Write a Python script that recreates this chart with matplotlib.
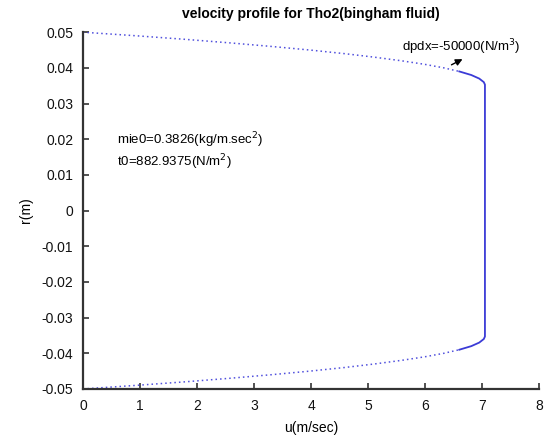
import matplotlib.pyplot as plt

plt.rcParams['font.family'] = ['Liberation Sans', 'DejaVu Sans']

# upper half of the profile (lower half is the mirror image)
r_outer = [0.050, 0.049, 0.048, 0.047, 0.046, 0.045, 0.044, 0.043, 0.042, 0.041, 0.040, 0.039]
u_outer = [0.00, 0.93, 1.79, 2.58, 3.31, 3.98, 4.58, 5.11, 5.58, 5.99, 6.33, 6.60]
r_inner = [0.039, 0.038, 0.037, 0.036, 0.0353]
u_inner = [6.60, 6.81, 6.95, 7.03, 7.05]

title = 'velocity profile for Tho2(bingham fluid)'
line_color = '#3b3bd6'

fig = plt.figure(figsize=(5.49, 4.41), dpi=100)
ax = fig.add_axes([0.151, 0.118, 0.831, 0.809])

# dotted outer parts (points spread out), solid near the plug
ax.plot(u_outer, r_outer, linestyle=(0, (1, 2)), color='#5050dd', lw=1.1)
ax.plot(u_outer, [-r for r in r_outer], linestyle=(0, (1, 2)), color='#5050dd', lw=1.1)
r_plug = r_inner + [-r for r in r_inner[::-1]]
u_plug = u_inner + u_inner[::-1]
ax.plot(u_plug, r_plug, '-', color=line_color, lw=1.3)

ax.set_xlim(0, 8)
ax.set_ylim(-0.05, 0.05)
ax.set_xticks(range(0, 9))
ax.set_yticks([0.05, 0.04, 0.03, 0.02, 0.01, 0, -0.01, -0.02, -0.03, -0.04, -0.05])
ax.set_yticklabels(['0.05', '0.04', '0.03', '0.02', '0.01', '0', '-0.01', '-0.02',
                    '-0.03', '-0.04', '-0.05'])

for s in ['top', 'right']:
    ax.spines[s].set_visible(False)
for s in ['left', 'bottom']:
    ax.spines[s].set_color('#333333')
    ax.spines[s].set_linewidth(1.6)
ax.tick_params(direction='in', length=4, width=1.2, color='#333333',
               labelsize=10, labelcolor='#111111', pad=7)

ax.set_xlabel('u(m/sec)', fontsize=10, labelpad=6)
ax.set_ylabel('r(m)', fontsize=10, labelpad=6)
ax.set_title(title, fontsize=10, fontweight='bold', pad=10)

ax.text(0.6, 0.0197, 'mie0=0.3826(kg/m.sec$^2$)', fontsize=9.5, va='center')
ax.text(0.6, 0.0136, 't0=882.9375(N/m$^2$)', fontsize=9.5, va='center')
ax.text(5.6, 0.0458, 'dpdx=-50000(N/m$^3$)', fontsize=9.5, va='center')
ax.annotate('', xy=(6.7, 0.0428), xytext=(6.42, 0.0405),
            arrowprops=dict(arrowstyle='-|>', color='black', lw=1, mutation_scale=10))

fig.savefig('out.png', dpi=100)
